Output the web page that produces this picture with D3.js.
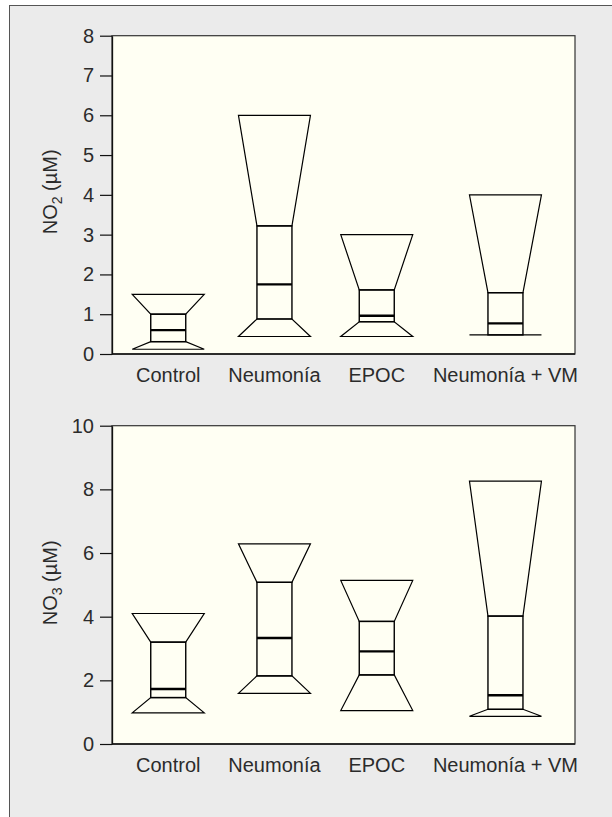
<!DOCTYPE html>
<html>
<head>
<meta charset="utf-8">
<script src="https://cdn.jsdelivr.net/npm/d3@7"></script>
<style>
  html, body { margin: 0; padding: 0; background: #ffffff; }
  svg { display: block; }
  text { font-family: "Liberation Sans", Arial, sans-serif; }
</style>
</head>
<body>
<svg id="chart" width="612" height="817"></svg>
<script>
// ---------- data ----------
const categories = ["Control", "Neumonía", "EPOC", "Neumonía + VM"];

const no2Max    = [1.50, 6.00, 3.00, 4.00];
const no2Q3     = [1.00, 3.22, 1.61, 1.54];
const no2Median = [0.60, 1.75, 0.96, 0.77];
const no2Q1     = [0.31, 0.88, 0.81, 0.48];
const no2Min    = [0.12, 0.44, 0.44, 0.48];
const no2Ticks  = [0, 1, 2, 3, 4, 5, 6, 7, 8];

const no3Max    = [4.10, 6.29, 5.14, 8.26];
const no3Q3     = [3.20, 5.08, 3.85, 4.02];
const no3Median = [1.73, 3.33, 2.91, 1.53];
const no3Q1     = [1.46, 2.14, 2.17, 1.09];
const no3Min    = [0.98, 1.59, 1.05, 0.87];
const no3Ticks  = [0, 2, 4, 6, 8, 10];

// ---------- layout ----------
const svg = d3.select("#chart");
const W = 612, H = 817;
const plotLeft = 112, plotRight = 575;
const labelSpan = [136, 578];
const wideW = 72, boxW = 35;
const fontSize = 20;
const textColor = "#2b2b2b";

// outer frame
svg.append("rect")
  .attr("x", 9.5).attr("y", 5.5)
  .attr("width", W + 10).attr("height", H + 10)
  .attr("fill", "#ebebeb")
  .attr("stroke", "#555").attr("stroke-width", 1);

// category centres from label widths laid out with equal gaps
const measure = svg.append("g").attr("opacity", 0);
const widths = categories.map(c => {
  const t = measure.append("text").attr("font-size", fontSize).text(c);
  const w = t.node().getComputedTextLength();
  t.remove();
  return w;
});
measure.remove();
const gap = (labelSpan[1] - labelSpan[0] - d3.sum(widths)) / (categories.length - 1);
let cursor = labelSpan[0];
const centers = widths.map(w => { const c = cursor + w / 2; cursor += w + gap; return c; });
const x = d3.scaleOrdinal().domain(categories).range(centers);

function drawPanel(cfg) {
  const { top, bottom, ticks, maxV, q3, med, q1, minV, sub, labelShift } = cfg;
  const y = d3.scaleLinear().domain([ticks[0], ticks[ticks.length - 1]]).range([bottom, top]);
  const g = svg.append("g");

  // plot area
  g.append("rect")
    .attr("x", plotLeft).attr("y", top)
    .attr("width", plotRight - plotLeft).attr("height", bottom - top)
    .attr("fill", "#fffff3")
    .attr("stroke", "#333").attr("stroke-width", 1.2);

  const rows = categories.map((c, i) => ({ c, max: maxV[i], q3: q3[i], med: med[i], q1: q1[i], min: minV[i] }));
  const shapes = g.selectAll("g.shape").data(rows).join("g").attr("class", "shape");

  // upper trapezoid (max -> Q3)
  shapes.append("path")
    .attr("d", d => {
      const cx = x(d.c);
      return `M${cx - wideW / 2},${y(d.max)}L${cx + wideW / 2},${y(d.max)}L${cx + boxW / 2},${y(d.q3)}L${cx - boxW / 2},${y(d.q3)}Z`;
    })
    .attr("fill", "none").attr("stroke", "#000").attr("stroke-width", 1.2);

  // lower trapezoid (Q1 -> min)
  shapes.append("path")
    .attr("d", d => {
      const cx = x(d.c);
      return `M${cx - wideW / 2},${y(d.min)}L${cx + wideW / 2},${y(d.min)}L${cx + boxW / 2},${y(d.q1)}L${cx - boxW / 2},${y(d.q1)}Z`;
    })
    .attr("fill", "none").attr("stroke", "#000").attr("stroke-width", 1.2);

  // box Q1..Q3
  shapes.append("rect")
    .attr("x", d => x(d.c) - boxW / 2)
    .attr("y", d => y(d.q3))
    .attr("width", boxW)
    .attr("height", d => y(d.q1) - y(d.q3))
    .attr("fill", "none").attr("stroke", "#000").attr("stroke-width", 1.4);

  // median
  shapes.append("line")
    .attr("x1", d => x(d.c) - boxW / 2).attr("x2", d => x(d.c) + boxW / 2)
    .attr("y1", d => y(d.med)).attr("y2", d => y(d.med))
    .attr("stroke", "#000").attr("stroke-width", 2.4);

  // y axis
  const ya = g.append("g").attr("transform", `translate(${plotLeft},0)`)
    .call(d3.axisLeft(y).tickValues(ticks).tickSize(12).tickSizeOuter(0).tickPadding(6));
  ya.select(".domain").attr("stroke", "#111").attr("stroke-width", 1.3);
  ya.selectAll(".tick line").attr("stroke", "#111").attr("stroke-width", 1.2);
  ya.selectAll(".tick text").attr("font-size", fontSize).attr("fill", textColor)
    .attr("font-family", '"Liberation Sans", Arial, sans-serif');

  // bottom axis line
  g.append("line")
    .attr("x1", plotLeft).attr("x2", plotRight)
    .attr("y1", bottom).attr("y2", bottom)
    .attr("stroke", "#111").attr("stroke-width", 1.3);

  // category labels
  g.selectAll("text.cat").data(categories).join("text")
    .attr("class", "cat")
    .attr("x", d => x(d)).attr("y", bottom + 28)
    .attr("text-anchor", "middle")
    .attr("font-size", fontSize).attr("fill", textColor)
    .text(d => d);

  // y label
  const lbl = g.append("text")
    .attr("transform", `translate(57,${(top + bottom) / 2 + labelShift}) rotate(-90)`)
    .attr("text-anchor", "middle")
    .attr("font-size", fontSize).attr("fill", textColor);
  lbl.append("tspan").text("NO");
  lbl.append("tspan").attr("font-size", 14).attr("dy", 5).text(sub);
  lbl.append("tspan").attr("dy", -5).text(" (µM)");
}

drawPanel({ top: 35.7, bottom: 354, ticks: no2Ticks, maxV: no2Max, q3: no2Q3, med: no2Median, q1: no2Q1, minV: no2Min, sub: "2", labelShift: -3 });
drawPanel({ top: 425.7, bottom: 744, ticks: no3Ticks, maxV: no3Max, q3: no3Q3, med: no3Median, q1: no3Q1, minV: no3Min, sub: "3", labelShift: -2 });
</script>
</body>
</html>
